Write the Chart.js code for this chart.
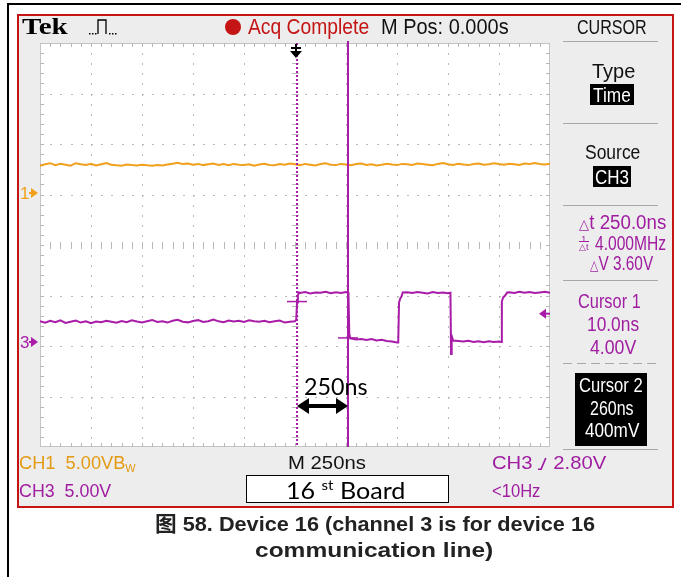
<!DOCTYPE html>
<html>
<head>
<meta charset="utf-8">
<script src="https://cdn.jsdelivr.net/npm/chart.js@4.4.0/dist/chart.umd.min.js"></script>
<style>
  html, body { margin: 0; padding: 0; background: #fff; }
  #wrap { position: relative; width: 681px; height: 577px; overflow: hidden; }
  #scope { position: absolute; left: 0; top: 0; }
  .lbl { position: absolute; white-space: nowrap; line-height: 1; transform-origin: 0 50%;
         font-family: "Liberation Sans", Arial, sans-serif; color: #111; }
  .box { position: absolute; background: #000; }
  .pu { color: #a01ca0; }
  .or { color: #e49a12; }
  .wh { color: #fff; }
  .cap { font-weight: bold; font-family: "Liberation Sans", "Noto Sans CJK SC", sans-serif; color: #222; }
  .hand { font-family: Lato, "Open Sans", sans-serif; color: #000; }
</style>
</head>
<body>
<div id="wrap">
  <canvas id="scope" width="681" height="577"></canvas>

  <!-- header strip -->
  <div class="lbl" style="left:22px;top:14px;font-size:24px;font-weight:bold;font-family:'Liberation Serif',serif;color:#000" data-w="46">Tek</div>
  <div class="lbl" style="left:248px;top:16px;font-size:22px;color:#c41414" data-w="121">Acq Complete</div>
  <div class="lbl" style="left:381px;top:16px;font-size:22px" data-w="128">M Pos: 0.000s</div>
  <div class="lbl" style="left:577px;top:17px;font-size:20px" data-w="70">CURSOR</div>

  <!-- cursor menu -->
  <div class="lbl" style="left:592px;top:61px;font-size:20px" data-w="43">Type</div>
  <div class="box" style="left:590px;top:84px;width:44px;height:21px"></div>
  <div class="lbl wh" style="left:593px;top:84.5px;font-size:20px" data-w="38">Time</div>
  <div class="lbl" style="left:585px;top:142px;font-size:20px" data-w="55">Source</div>
  <div class="box" style="left:593px;top:166px;width:38px;height:21px"></div>
  <div class="lbl wh" style="left:595px;top:166.5px;font-size:20px" data-w="34">CH3</div>

  <div class="lbl pu" style="left:579px;top:212px;font-size:20px" data-w="87"><span style="font-size:.7em">△</span>t 250.0ns</div>
  <div class="lbl pu" style="left:579px;top:235px;font-size:9px;line-height:8px;text-align:center">1<br><span style="border-top:1px solid #a01ca0">△t</span></div>
  <div class="lbl pu" style="left:595px;top:233px;font-size:20px" data-w="71">4.000MHz</div>
  <div class="lbl pu" style="left:590px;top:253px;font-size:20px" data-w="63"><span style="font-size:.7em">△</span>V 3.60V</div>

  <div class="lbl pu" style="left:578px;top:291px;font-size:20px" data-w="63">Cursor 1</div>
  <div class="lbl pu" style="left:587px;top:314px;font-size:20px" data-w="52">10.0ns</div>
  <div class="lbl pu" style="left:590px;top:337px;font-size:20px" data-w="46">4.00V</div>

  <div class="box" style="left:575px;top:373px;width:72px;height:73px"></div>
  <div class="lbl wh" style="left:579px;top:375px;font-size:20px" data-w="64">Cursor 2</div>
  <div class="lbl wh" style="left:590px;top:398px;font-size:20px" data-w="44">260ns</div>
  <div class="lbl wh" style="left:585px;top:420px;font-size:20px" data-w="54">400mV</div>

  <!-- bottom status -->
  <div class="lbl or" style="left:19px;top:452.5px;font-size:19px" data-w="117">CH1&nbsp;&nbsp;5.00VB<span style="font-size:.6em;vertical-align:-0.3em">W</span></div>
  <div class="lbl" style="left:288px;top:452.5px;font-size:19px" data-w="78">M 250ns</div>
  <div class="lbl pu" style="left:492px;top:452.5px;font-size:19px" data-w="114">CH3 <svg width="9" height="13" viewBox="0 0 9 13" style="vertical-align:-1px"><path d="M0 12.3H3L7.5 1" stroke="#a01ca0" stroke-width="1.6" fill="none"/></svg> 2.80V</div>
  <div class="lbl pu" style="left:19px;top:480.5px;font-size:19px" data-w="92">CH3&nbsp;&nbsp;5.00V</div>
  <div class="lbl pu" style="left:492px;top:480.5px;font-size:19px" data-w="48">&lt;10Hz</div>

  <div style="position:absolute;left:246px;top:475px;width:201px;height:26px;border:1.5px solid #000;background:#fff"></div>
  <div class="lbl hand" style="left:286px;top:478px;font-size:23px" data-w="119">16 <sup style="font-size:.6em">st</sup> Board</div>

  <!-- cursor spacing note -->
  <div class="lbl hand" style="left:304px;top:374px;font-size:24px" data-w="64">250ns</div>

  <!-- figure caption -->
  <div class="lbl cap" style="left:155px;top:513px;font-size:21px" data-w="440">图 58. Device 16 (channel 3 is for device 16</div>
  <div class="lbl cap" style="left:255px;top:539px;font-size:21px" data-w="238">communication line)</div>
</div>

<script>
// CH1 samples (ns, volts)
const ch1Time = [
  -1250, -1225, -1200, -1175, -1150, -1125, -1100, -1075, -1050, -1025,
  -1000, -975, -950, -925, -900, -875, -850, -825, -800, -775,
  -750, -725, -700, -675, -650, -625, -600, -575, -550, -525,
  -500, -475, -450, -425, -400, -375, -350, -325, -300, -275,
  -250, -225, -200, -175, -150, -125, -100, -75, -50, -25,
  0, 25, 50, 75, 100, 125, 150, 175, 200, 225,
  250, 275, 300, 325, 350, 375, 400, 425, 450, 475,
  500, 525, 550, 575, 600, 625, 650, 675, 700, 725,
  750, 775, 800, 825, 850, 875, 900, 925, 950, 975,
  1000, 1025, 1050, 1075, 1100, 1125, 1150, 1175, 1200, 1225,
  1250
];
const ch1Volts = [
  2.70, 2.85, 2.95, 2.75, 2.90, 2.80, 2.70, 2.95, 2.85, 2.78,
  2.90, 2.72, 2.84, 2.96, 2.80, 2.74, 2.70, 2.82, 2.76, 2.72,
  2.80, 2.74, 2.70, 2.78, 2.72, 2.82, 2.90, 2.98, 2.86, 2.92,
  2.80, 2.88, 2.76, 2.84, 2.92, 2.78, 2.86, 2.74, 2.88, 2.80,
  2.76, 2.84, 2.70, 2.82, 2.90, 2.78, 2.74, 2.86, 2.80, 2.92,
  2.84, 2.76, 2.88, 2.80, 2.72, 2.86, 2.94, 2.80, 2.76, 2.88,
  2.82, 2.74, 2.86, 2.92, 2.78, 2.84, 2.72, 2.80, 2.90, 2.82,
  2.76, 2.88, 2.84, 2.78, 2.92, 2.86, 2.80, 2.74, 2.88, 2.96,
  2.84, 2.78, 2.90, 2.82, 2.76, 2.86, 2.92, 2.80, 2.84, 2.94,
  2.86, 2.80, 2.90, 2.84, 2.78, 2.92, 2.86, 2.96, 2.88, 2.82,
  2.90
];

// CH3 communication line (ns, volts)
const ch3Time = [
  -1250, -1225, -1200, -1175, -1150, -1125, -1100, -1075, -1050, -1025,
  -1000, -975, -950, -925, -900, -875, -850, -825, -800, -775,
  -750, -725, -700, -675, -650, -625, -600, -575, -550, -525,
  -500, -475, -450, -425, -400, -375, -350, -325, -300, -275,
  -250, -225, -200, -175, -150, -125, -100, -75, -50, -25,
  0, 6, 10, 14, 20,
  25, 50, 75, 100, 125, 150, 175, 200, 225, 250,
  262, 266, 272,
  275, 300, 325, 350, 375, 400, 425, 450, 475, 500,
  506, 510, 516, 522, 528,
  550, 575, 600, 625, 650, 675, 700, 725, 750,
  762, 765, 768, 775,
  800, 825, 850, 875, 900, 925, 950, 975, 1000,
  1010, 1014, 1020, 1030, 1040,
  1050, 1075, 1100, 1125, 1150, 1175, 1200, 1225, 1250
];
const ch3Volts = [
  2.05, 1.90, 2.10, 1.95, 2.15, 1.88, 2.00, 2.12, 1.92, 2.05,
  1.85, 2.02, 1.95, 2.10, 2.00, 1.90, 2.08, 1.96, 2.14, 2.02,
  1.94, 2.06, 2.18, 1.98, 2.04, 1.92, 2.10, 2.20, 2.00, 1.94,
  2.08, 2.16, 1.98, 2.06, 2.22, 2.04, 1.96, 2.12, 2.02, 2.10,
  1.98, 2.14, 2.06, 2.00, 2.10, 1.96, 2.04, 2.12, 1.92, 2.00,
  2.05, 2.20, 3.90, 4.60, 4.90,
  4.85, 4.95, 4.80, 4.90, 4.88, 4.96, 4.82, 4.92, 4.86, 4.94,
  4.88, 0.80, 0.35,
  0.35, 0.25, 0.30, 0.20, 0.28, 0.15, 0.22, 0.10, 0.05, -0.05,
  -0.05, 3.90, 4.30, 4.50, 4.90,
  4.92, 4.84, 4.95, 4.88, 4.80, 4.94, 4.86, 4.90, 4.82,
  4.88, -1.20, 0.60, 0.15,
  0.10, 0.05, 0.12, 0.00, 0.08, -0.02, 0.06, 0.00, 0.04,
  0.00, 4.00, 4.40, 4.60, 4.90,
  4.92, 4.86, 4.96, 4.88, 4.94, 4.84, 4.90, 4.96, 4.88
];

// scope settings
const voltsPerDiv = 5;
const ch1GroundDiv = 1.03;
const ch3GroundDiv = -1.92;
const triggerLevel = 2.80;
const cursorTimes = [10, 260];
const cursorVolts = [4.00, 0.40];

const ORANGE = '#f0a01c';
const PURPLE = '#a81ca8';

function points(times, volts) {
    return times.map((t, i) => ({ x: t, y: volts[i] }));
}

function drawGraticule(ctx, a) {
    const w = a.right - a.left;
    const h = a.bottom - a.top;
    const mx = w / 50;
    const my = h / 40;
    ctx.fillStyle = '#b8b8b8';
    ctx.strokeStyle = '#c4c4c4';
    ctx.lineWidth = 1;
    ctx.strokeRect(a.left + 0.5, a.top + 0.5, w - 1, h - 1);

    // vertical major lines
    for (let i = 1; i < 10; i++) {
        const x = Math.round(a.left + i * w / 10);
        for (let j = 1; j < 40; j++) {
            const y = Math.round(a.top + j * my);
            if (i === 5) ctx.fillRect(x - 3, y, 7, 1);
            else ctx.fillRect(x, y, 1, 2);
        }
    }
    // horizontal major lines
    for (let j = 1; j < 8; j++) {
        const y = Math.round(a.top + j * h / 8);
        for (let i = 1; i < 50; i++) {
            const x = Math.round(a.left + i * mx);
            if (j === 4) ctx.fillRect(x, y - 3, 1, 7);
            else ctx.fillRect(x, y, 2, 1);
        }
    }
    // edge ticks
    for (let i = 1; i < 50; i++) {
        const x = Math.round(a.left + i * mx);
        ctx.fillRect(x, a.top, 1, 4);
        ctx.fillRect(x, a.bottom - 4, 1, 4);
    }
    for (let j = 1; j < 40; j++) {
        const y = Math.round(a.top + j * my);
        ctx.fillRect(a.left, y, 4, 1);
        ctx.fillRect(a.right - 4, y, 4, 1);
    }
}

function drawPanelRules(ctx) {
    ctx.strokeStyle = '#a8a8a8';
    ctx.lineWidth = 1;
    [41, 123, 205, 280, 449].forEach(y => {
        ctx.beginPath();
        ctx.moveTo(563, y + 0.5);
        ctx.lineTo(658, y + 0.5);
        ctx.stroke();
    });
    ctx.setLineDash([9, 5]);
    ctx.beginPath();
    ctx.moveTo(563, 363.5);
    ctx.lineTo(658, 363.5);
    ctx.stroke();
    ctx.setLineDash([]);
}

function drawHeaderIcons(ctx) {
    // acquisition stopped dot
    ctx.fillStyle = '#c41414';
    ctx.beginPath();
    ctx.arc(233, 27, 8, 0, Math.PI * 2);
    ctx.fill();
    // pulse trigger icon
    ctx.fillStyle = '#000';
    [89, 92, 95, 109, 112, 115].forEach(x => ctx.fillRect(x, 33, 1.5, 1.5));
    ctx.strokeStyle = '#000';
    ctx.lineWidth = 1.3;
    ctx.beginPath();
    ctx.moveTo(98, 34);
    ctx.lineTo(98, 20);
    ctx.lineTo(106, 20);
    ctx.lineTo(106, 34);
    ctx.stroke();
}

function groundMarker(ctx, label, y, color) {
    ctx.fillStyle = color;
    ctx.font = '17px "Liberation Sans", sans-serif';
    ctx.textBaseline = 'middle';
    ctx.fillText(label, 20, y + 1);
    ctx.fillRect(29, y - 1, 4, 2);
    ctx.beginPath();
    ctx.moveTo(31, y - 5);
    ctx.lineTo(38, y);
    ctx.lineTo(31, y + 5);
    ctx.closePath();
    ctx.fill();
}

const scopeFace = {
    id: 'scopeFace',
    beforeDraw(chart) {
        const ctx = chart.ctx;
        const a = chart.chartArea;
        ctx.save();
        ctx.fillStyle = '#000';
        ctx.fillRect(7, 3, 674, 2);
        ctx.fillRect(7, 3, 2, 574);
        ctx.fillStyle = '#ededed';
        ctx.fillRect(18, 15, 655, 492);
        ctx.strokeStyle = '#c41414';
        ctx.lineWidth = 2;
        ctx.strokeRect(18, 15, 655, 492);
        ctx.fillStyle = '#fff';
        ctx.fillRect(a.left, a.top, a.right - a.left, a.bottom - a.top);
        drawGraticule(ctx, a);
        drawPanelRules(ctx);
        drawHeaderIcons(ctx);

        const y1 = chart.scales.y1;
        const y3 = chart.scales.y3;
        groundMarker(ctx, '1', y1.getPixelForValue(0), ORANGE);
        groundMarker(ctx, '3', y3.getPixelForValue(0), PURPLE);
        ctx.restore();
    },
    afterDatasetsDraw(chart) {
        const ctx = chart.ctx;
        const a = chart.chartArea;
        const xs = chart.scales.x;
        const y3 = chart.scales.y3;
        const c1 = Math.round(xs.getPixelForValue(cursorTimes[0]));
        const c2 = Math.round(xs.getPixelForValue(cursorTimes[1]));
        ctx.save();

        // cursor 1 dotted, cursor 2 solid
        ctx.strokeStyle = PURPLE;
        ctx.lineWidth = 2;
        ctx.setLineDash([2, 2]);
        ctx.beginPath();
        ctx.moveTo(c1, a.top);
        ctx.lineTo(c1, a.bottom);
        ctx.stroke();
        ctx.setLineDash([]);
        ctx.beginPath();
        ctx.moveTo(c2, a.top - 2);
        ctx.lineTo(c2, a.bottom);
        ctx.stroke();

        // level marks where cursors meet CH3
        ctx.lineWidth = 1.5;
        [[c1, cursorVolts[0]], [c2, cursorVolts[1]]].forEach(([cx, v]) => {
            const cy = y3.getPixelForValue(v);
            ctx.beginPath();
            ctx.moveTo(cx - 10, cy);
            ctx.lineTo(cx + 10, cy);
            ctx.stroke();
        });

        // trigger level arrow
        const ty = y3.getPixelForValue(triggerLevel);
        ctx.fillStyle = PURPLE;
        ctx.beginPath();
        ctx.moveTo(539, ty);
        ctx.lineTo(546, ty - 5);
        ctx.lineTo(546, ty + 5);
        ctx.closePath();
        ctx.fill();
        ctx.fillRect(545, ty - 1, 5, 2);

        // trigger position marker
        const tx = Math.round(xs.getPixelForValue(0)) + 1;
        ctx.fillStyle = '#000';
        ctx.fillRect(tx - 1, a.top + 1, 2, 10);
        ctx.fillRect(tx - 5, a.top + 4, 10, 2);
        ctx.beginPath();
        ctx.moveTo(tx - 6, a.top + 8);
        ctx.lineTo(tx + 6, a.top + 8);
        ctx.lineTo(tx, a.top + 15);
        ctx.closePath();
        ctx.fill();

        // double arrow between the cursors
        const ay = 406;
        ctx.fillRect(c1 + 8, ay - 2, c2 - c1 - 16, 4);
        ctx.beginPath();
        ctx.moveTo(c1, ay);
        ctx.lineTo(c1 + 12, ay - 8);
        ctx.lineTo(c1 + 12, ay + 8);
        ctx.closePath();
        ctx.moveTo(c2, ay);
        ctx.lineTo(c2 - 12, ay - 8);
        ctx.lineTo(c2 - 12, ay + 8);
        ctx.closePath();
        ctx.fill();
        ctx.restore();
    }
};

new Chart(document.getElementById('scope'), {
    type: 'line',
    data: {
        datasets: [
            {
                label: 'CH1',
                data: points(ch1Time, ch1Volts),
                yAxisID: 'y1',
                borderColor: ORANGE,
                borderWidth: 2,
                pointRadius: 0,
                tension: 0
            },
            {
                label: 'CH3',
                data: points(ch3Time, ch3Volts),
                yAxisID: 'y3',
                borderColor: PURPLE,
                borderWidth: 2,
                pointRadius: 0,
                tension: 0
            }
        ]
    },
    options: {
        responsive: false,
        animation: false,
        devicePixelRatio: 1,
        layout: { padding: { left: 40, top: 43, right: 131, bottom: 130 } },
        plugins: {
            legend: { display: false },
            tooltip: { enabled: false }
        },
        scales: {
            x: { type: 'linear', min: -1250, max: 1250, display: false },
            y1: {
                type: 'linear',
                min: -voltsPerDiv * (4 + ch1GroundDiv),
                max: voltsPerDiv * (4 - ch1GroundDiv),
                display: false
            },
            y3: {
                type: 'linear',
                min: -voltsPerDiv * (4 + ch3GroundDiv),
                max: voltsPerDiv * (4 - ch3GroundDiv),
                display: false
            }
        }
    },
    plugins: [scopeFace]
});

// stretch each label to its width on the screen
document.querySelectorAll('.lbl[data-w]').forEach(el => {
    const w = parseFloat(el.dataset.w);
    el.style.transform = 'scaleX(' + (w / el.offsetWidth) + ')';
});
</script>
</body>
</html>
